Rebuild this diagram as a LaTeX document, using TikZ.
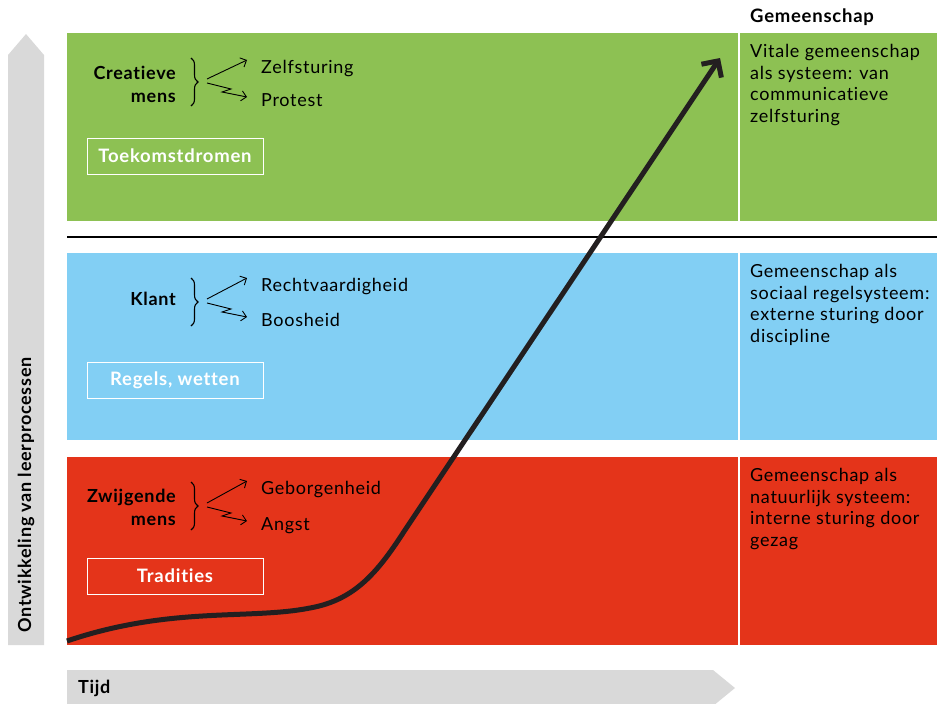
\documentclass[tikz,border=0pt]{standalone}
\usepackage{fontspec}
\setmainfont{Lato}[LetterSpace=4, Ligatures=NoCommon]
\usetikzlibrary{arrows.meta,decorations.pathreplacing}

\definecolor{groen}{RGB}{141,193,83}
\definecolor{blauw}{RGB}{130,207,244}
\definecolor{rood}{RGB}{228,52,26}
\definecolor{grijs}{RGB}{217,217,217}
\definecolor{inkt}{RGB}{35,31,32}

\tikzset{
  wie/.style={font=\bfseries\fontsize{18}{23}\selectfont, align=right, anchor=east, inner sep=0pt},
  gevoel/.style={font=\fontsize{18}{21.7}\selectfont, anchor=base west, inner sep=0pt},
  bron/.style={draw=white, line width=1pt, text=white, font=\bfseries\fontsize{18.5}{20}\selectfont,
    minimum width=176pt, minimum height=36pt, inner sep=0pt},
  uitleg/.style={font=\fontsize{18}{21.7}\selectfont, align=left, anchor=north west, inner sep=0pt},
  kop/.style={font=\bfseries\fontsize{18}{20}\selectfont, inner sep=0pt},
  accolade/.style={decorate, decoration={brace, amplitude=7pt}, line width=1.1pt},
  pijltje/.style={line width=0.9pt, -{Straight Barb[length=5pt,width=10pt]}},
}

\begin{document}
\begin{tikzpicture}[x=1pt, y=-1pt]
        \useasboundingbox (0,0) rectangle (937,704);

        %grey axes
        \fill [grijs] (8,645) -- (8,55) -- (26,34) -- (44,55) -- (44,645) -- cycle;
        \fill [grijs] (67,670) -- (713,670) -- (735,688) -- (713,706) -- (67,706) -- cycle;
        \node [kop, rotate=90] (leren) at (26,495) {Ontwikkeling van leerprocessen};
        \node [kop, anchor=west] (tijd) at (78,688) {Tijd};
        \node [kop, font=\bfseries\fontsize{18.5}{20}\selectfont, anchor=base west] (gemeenschap) at (750,22) {Gemeenschap};

        %bands
        \fill [groen] (67,33) rectangle (738,221);
        \fill [groen] (740,33) rectangle (937,221);
        \fill [blauw] (67,253) rectangle (738,440);
        \fill [blauw] (740,253) rectangle (937,440);
        \fill [rood] (67,457) rectangle (738,645);
        \fill [rood] (740,457) rectangle (937,645);

        %separating line
        \draw [line width=2.8pt] (67,237) -- (937,237);

        %green band
        \node [wie] (creatief) at (176,84) {Creatieve\\mens};
        \draw [accolade] (191,58) -- (191,106);
        \coordinate (gvan1) at (207,79);
        \coordinate (gvan2) at (207,83);
        \node [gevoel] (zelf) at (261,73) {Zelfsturing};
        \node [gevoel] (protest) at (261,106) {Protest};
        \draw [pijltje] (gvan1) -- ([shift={(-14,-13)}]zelf.base west);
        \draw [pijltje] (gvan2) -- ++(24,6) -- ++(-9,3) -- ([shift={(-14,-9)}]protest.base west);
        \node [bron] (dromen) at (175,156) {Toekomstdromen};
        \node [uitleg] (vitaal) at (750,44) {Vitale gemeenschap\\als systeem: van\\communicatieve\\zelfsturing};

        %blue band
        \node [wie] (klant) at (176,299) {Klant};
        \draw [accolade] (191,278) -- (191,326);
        \coordinate (bvan1) at (207,299);
        \coordinate (bvan2) at (207,303);
        \node [gevoel] (recht) at (261,291) {Rechtvaardigheid};
        \node [gevoel] (boos) at (261,326) {Boosheid};
        \draw [pijltje] (bvan1) -- ([shift={(-14,-13)}]recht.base west);
        \draw [pijltje] (bvan2) -- ++(24,6) -- ++(-9,3) -- ([shift={(-14,-9)}]boos.base west);
        \node [bron] (regels) at (175,380) {Regels, wetten};
        \node [uitleg] (sociaal) at (750,264) {Gemeenschap als\\sociaal regelsysteem:\\externe sturing door\\discipline};

        %red band
        \node [wie] (zwijgend) at (176,507) {Zwijgende\\mens};
        \draw [accolade] (191,482) -- (191,530);
        \coordinate (rvan1) at (207,503);
        \coordinate (rvan2) at (207,507);
        \node [gevoel] (geborgen) at (261,494) {Geborgenheid};
        \node [gevoel] (angst) at (261,530) {Angst};
        \draw [pijltje] (rvan1) -- ([shift={(-14,-13)}]geborgen.base west);
        \draw [pijltje] (rvan2) -- ++(24,6) -- ++(-9,3) -- ([shift={(-14,-9)}]angst.base west);
        \node [bron] (tradities) at (175,576) {Tradities};
        \node [uitleg] (natuur) at (750,468) {Gemeenschap als\\natuurlijk systeem:\\interne sturing door\\gezag};

        %growth curve
        \draw [inkt, line width=5pt, -{Straight Barb[length=12pt,width=24pt]}]
          (67,641) .. controls (170,606) and (250,620) .. (310,608)
          .. controls (355,600) and (378,572) .. (405,530) -- (720,58);
\end{tikzpicture}
\end{document}
